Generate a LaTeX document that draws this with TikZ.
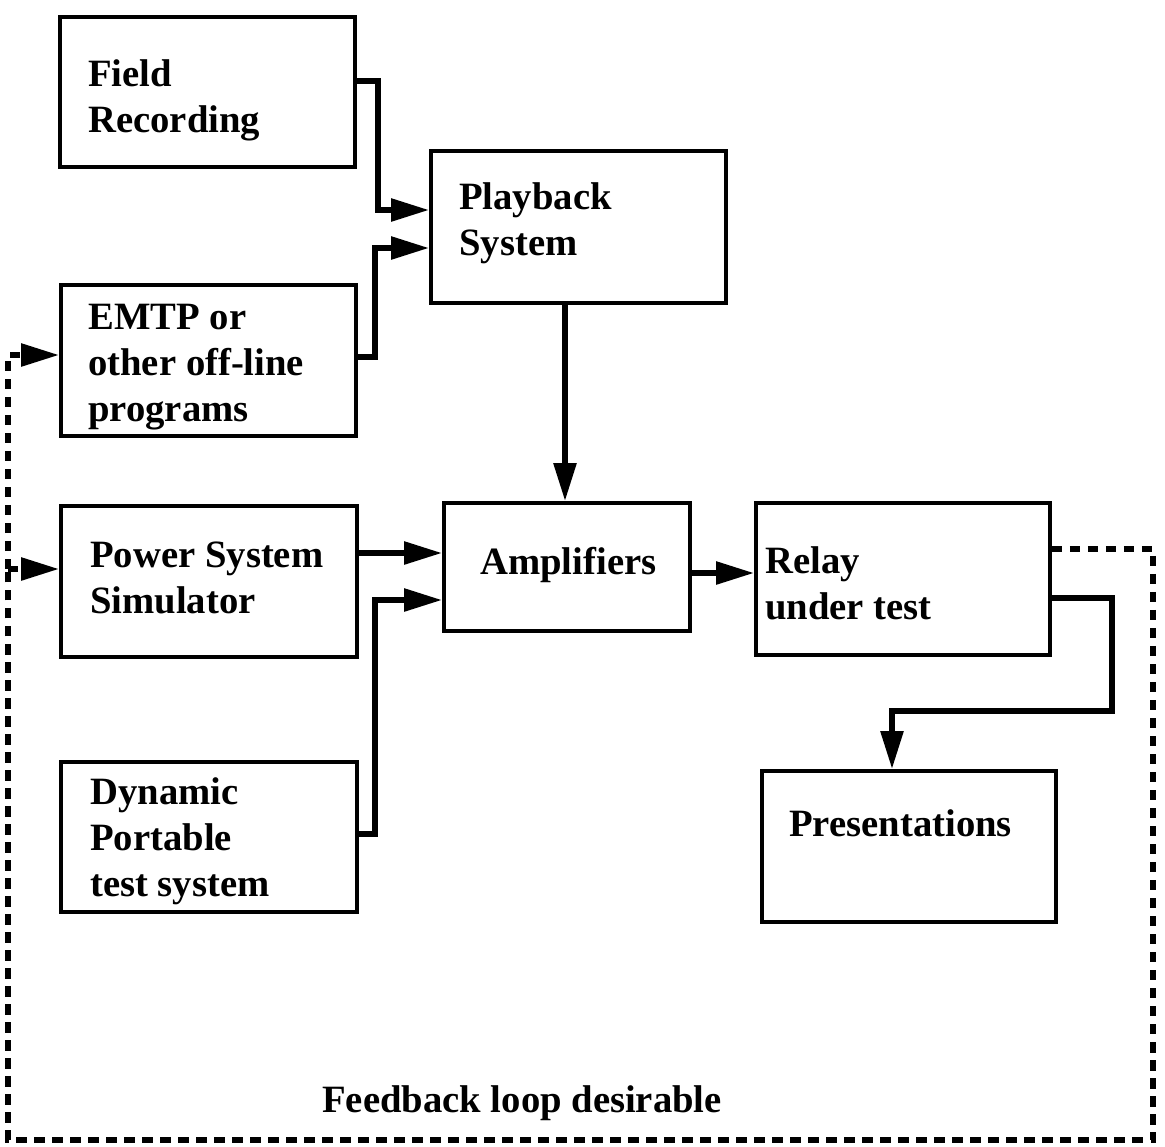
\documentclass[tikz,border=0pt]{standalone}
\usepackage{fontspec}
\setmainfont{Liberation Serif}
\usetikzlibrary{arrows.meta}
\begin{document}
\begin{tikzpicture}[x=0.025cm,y=-0.025cm,
  box/.style={draw, line width=2.7pt, inner sep=0pt},
  lbl/.style={font=\bfseries\fontsize{27.5}{32.7}\selectfont, align=left, inner sep=0pt, anchor=base west},
  wire/.style={line width=4pt, -{Triangle[length=0.95cm,width=0.55cm]}},
  fb/.style={line width=4pt, dash pattern=on 0.26cm off 0.19cm},
  fbarrow/.style={fb, -{Triangle[length=0.95cm,width=0.55cm]}}]
  \useasboundingbox (0,0) rectangle (1165,1146);

  % blocks
  \node[box, minimum width=7.375cm, minimum height=3.75cm] (field) at (207.5,92) {};
  \node[box, minimum width=7.375cm, minimum height=3.8cm] (play) at (578.5,227) {};
  \node[box, minimum width=7.375cm, minimum height=3.775cm] (emtp) at (208.5,360.5) {};
  \node[box, minimum width=7.4cm, minimum height=3.775cm] (pss) at (209,581.5) {};
  \node[box, minimum width=7.4cm, minimum height=3.75cm] (dyn) at (209,837) {};
  \node[box, minimum width=6.15cm, minimum height=3.2cm] (amp) at (567,567) {};
  \node[box, minimum width=7.35cm, minimum height=3.8cm] (relay) at (903,579) {};
  \node[box, minimum width=7.35cm, minimum height=3.775cm] (pres) at (909,846.5) {};

  % block captions (anchored at the baseline of the last line)
  \node[lbl] (tfield) at (88,132) {Field\\Recording};
  \node[lbl] (tplay) at (459,255) {Playback\\System};
  \node[lbl] (temtp) at (88,421) {EMTP or\\other off-line\\programs};
  \node[lbl] (tpss) at (90,613) {Power System\\Simulator};
  \node[lbl] (tdyn) at (90,896) {Dynamic\\Portable\\test system};
  \node[lbl] (tamp) at (480,574) {Amplifiers};
  \node[lbl] (trelay) at (765,619) {Relay\\under test};
  \node[lbl] (tpres) at (789,836) {Presentations};
  \node[lbl] (tfb) at (322,1112) {Feedback loop desirable};

  % signal paths
  \draw[wire] (field.east |- 0,81) -- (378,81) -- (378,210) -- (play.west |- 0,210);
  \draw[wire] (emtp.east |- 0,357) -- (375,357) -- (375,248) -- (play.west |- 0,248);
  \draw[wire] (play.south -| 565,0) -- (amp.north -| 565,0);
  \draw[wire] (pss.east |- 0,553) -- (amp.west |- 0,553);
  \draw[wire] (dyn.east |- 0,834) -- (375,834) -- (375,600) -- (amp.west |- 0,600);
  \draw[wire] (amp.east |- 0,573) -- (relay.west |- 0,573);
  \draw[wire] (relay.east |- 0,598) -- (1112,598) -- (1112,711) -- (892,711) -- (pres.north -| 892,0);

  % feedback loop
  \coordinate (fbsplit) at (8,569);
  \draw[fb] (relay.east |- 0,549) -- (1153,549) -- (1153,1140) -- (8,1140) -- (fbsplit);
  \draw[fbarrow] (fbsplit) -- (8,355) -- (emtp.west |- 0,355);
  \draw[fbarrow] (fbsplit) -- (pss.west |- 0,569);
\end{tikzpicture}
\end{document}
